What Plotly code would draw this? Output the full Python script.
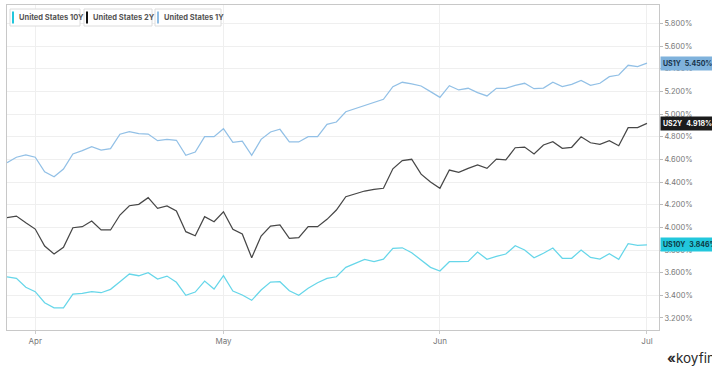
import pandas as pd
import plotly.graph_objects as go

# Trading days (weekdays) from late March to early July 2023
dates = pd.bdate_range("2023-03-29", "2023-07-03")

us10y = [3.564, 3.550, 3.471, 3.432, 3.335, 3.290, 3.290, 3.411, 3.417, 3.432,
         3.423, 3.453, 3.520, 3.588, 3.573, 3.600, 3.544, 3.570, 3.515, 3.400,
         3.429, 3.526, 3.456, 3.573, 3.438, 3.403, 3.356, 3.447, 3.517, 3.520,
         3.441, 3.400, 3.462, 3.511, 3.550, 3.564, 3.647, 3.685, 3.718, 3.697,
         3.720, 3.815, 3.820, 3.776, 3.712, 3.647, 3.615, 3.697, 3.697, 3.700,
         3.782, 3.718, 3.744, 3.765, 3.838, 3.800, 3.732, 3.771, 3.818, 3.727,
         3.727, 3.800, 3.735, 3.720, 3.767, 3.718, 3.856, 3.841, 3.846]

us2y = [4.085, 4.100, 4.041, 3.985, 3.835, 3.765, 3.824, 3.997, 4.006, 4.056,
        3.977, 3.977, 4.109, 4.191, 4.203, 4.262, 4.168, 4.189, 4.144, 3.962,
        3.926, 4.094, 4.050, 4.138, 3.983, 3.941, 3.732, 3.924, 4.012, 4.021,
        3.903, 3.909, 4.006, 4.006, 4.071, 4.153, 4.271, 4.298, 4.321, 4.336,
        4.345, 4.517, 4.589, 4.601, 4.470, 4.400, 4.345, 4.506, 4.486, 4.521,
        4.551, 4.521, 4.602, 4.595, 4.703, 4.709, 4.648, 4.727, 4.756, 4.698,
        4.707, 4.800, 4.747, 4.733, 4.765, 4.721, 4.880, 4.880, 4.918]

us1y = [4.571, 4.619, 4.639, 4.619, 4.491, 4.447, 4.515, 4.648, 4.677, 4.712,
        4.683, 4.695, 4.822, 4.845, 4.827, 4.824, 4.765, 4.777, 4.769, 4.636,
        4.665, 4.800, 4.800, 4.871, 4.751, 4.762, 4.636, 4.777, 4.842, 4.866,
        4.754, 4.754, 4.800, 4.800, 4.910, 4.930, 5.021, 5.048, 5.080, 5.101,
        5.131, 5.242, 5.281, 5.266, 5.248, 5.198, 5.148, 5.251, 5.213, 5.228,
        5.189, 5.160, 5.228, 5.228, 5.254, 5.272, 5.224, 5.230, 5.281, 5.242,
        5.263, 5.298, 5.254, 5.272, 5.330, 5.345, 5.431, 5.419, 5.450]

series_names = ["United States 10Y", "United States 2Y", "United States 1Y"]
short_names = ["US10Y", "US2Y", "US1Y"]
series_values = [us10y, us2y, us1y]
line_colors = ["#66d6e9", "#474747", "#92c0e6"]
tag_colors = ["#22c7dc", "#1c1c1c", "#7fb2dc"]
tag_text_colors = ["#0d3a44", "#ffffff", "#17324a"]
chip_colors = ["#22c7dc", "#111111", "#8fbde4"]

month_ticks = ["2023-04-03", "2023-05-01", "2023-06-01", "2023-07-03"]
month_labels = ["Apr", "May", "Jun", "Jul"]
y_ticks = [3.2, 3.4, 3.6, 3.8, 4.0, 4.2, 4.4, 4.6, 4.8, 5.0, 5.2, 5.4, 5.6, 5.8]
y_labels = [f"{v:.3f}%" for v in y_ticks]

W, H = 712, 368
ML, MR, MT, MB = 7, 53, 5, 38
PW, PH = W - ML - MR, H - MT - MB


def px_x(px):
    return (px - ML) / PW


def px_y(py):
    return (H - MB - py) / PH


FONT = "Inter, Roboto, sans-serif"

fig = go.Figure()
for name, vals, col in zip(series_names, series_values, line_colors):
    fig.add_trace(go.Scatter(x=dates, y=vals, mode="lines", name=name,
                             line=dict(color=col, width=1.25),
                             hoverinfo="skip"))

# Last-value tags on the right axis
for short, vals, bg, fg in zip(short_names, series_values, tag_colors, tag_text_colors):
    fig.add_annotation(
        xref="paper", yref="y", x=1, y=vals[-1], xanchor="left", yanchor="middle",
        xshift=1, showarrow=False, align="left",
        text=f"<b>{short}</b>&nbsp;&nbsp;<b>{vals[-1]:.3f}%</b>",
        font=dict(family=FONT, size=7, color=fg), bgcolor=bg, borderpad=2,
    )

# Series chips in the top-left corner
chips = [(10, 80, 13), (84, 152, 87), (155, 221, 158)]
for (x0, x1, bar), name, col in zip(chips, series_names, chip_colors):
    fig.add_shape(type="rect", xref="paper", yref="paper",
                  x0=px_x(x0), x1=px_x(x1), y0=px_y(9), y1=px_y(26),
                  line=dict(color="#dcdcdc", width=1), fillcolor="white", layer="above")
    fig.add_shape(type="line", xref="paper", yref="paper",
                  x0=px_x(bar), x1=px_x(bar), y0=px_y(11.5), y1=px_y(23.5),
                  line=dict(color=col, width=2), layer="above")
    fig.add_annotation(xref="paper", yref="paper", x=px_x(bar + 4), y=px_y(17.5),
                       xanchor="left", yanchor="middle", showarrow=False,
                       text=f"<b>{name}</b>",
                       font=dict(family=FONT, size=7.5, color="#555555"))

# Brand mark
fig.add_annotation(xref="paper", yref="paper", x=px_x(665), y=px_y(358),
                   xanchor="left", yanchor="middle", showarrow=False,
                   text="<b>«</b>koyfin",
                   font=dict(family=FONT, size=13.5, color="#2a2a2a"))

fig.update_layout(
    width=W, height=H,
    margin=dict(l=ML, r=MR, t=MT, b=MB),
    paper_bgcolor="white", plot_bgcolor="white",
    showlegend=False,
    font=dict(family=FONT, size=8, color="#777777"),
    hovermode=False,
)
fig.update_xaxes(
    type="date",
    rangebreaks=[dict(bounds=["sat", "mon"])],
    range=[dates[0], pd.Timestamp("2023-07-04 06:40")],
    tickvals=month_ticks, ticktext=month_labels,
    showgrid=True, gridcolor="#efefef", gridwidth=1,
    showline=True, linecolor="#c8c8c8", linewidth=1, mirror=True,
    ticks="outside", ticklen=3, tickcolor="#cccccc",
    tickfont=dict(family=FONT, size=8, color="#777777"),
    zeroline=False,
)
fig.update_yaxes(
    side="right", range=[3.094, 5.963],
    tickvals=y_ticks, ticktext=y_labels,
    showgrid=True, gridcolor="#efefef", gridwidth=1,
    showline=True, linecolor="#c8c8c8", linewidth=1, mirror=True,
    ticks="outside", ticklen=3, tickcolor="#bbbbbb",
    tickfont=dict(family=FONT, size=7.5, color="#777777"),
    zeroline=False,
)

fig.write_html("out.html", config={"displayModeBar": False})
